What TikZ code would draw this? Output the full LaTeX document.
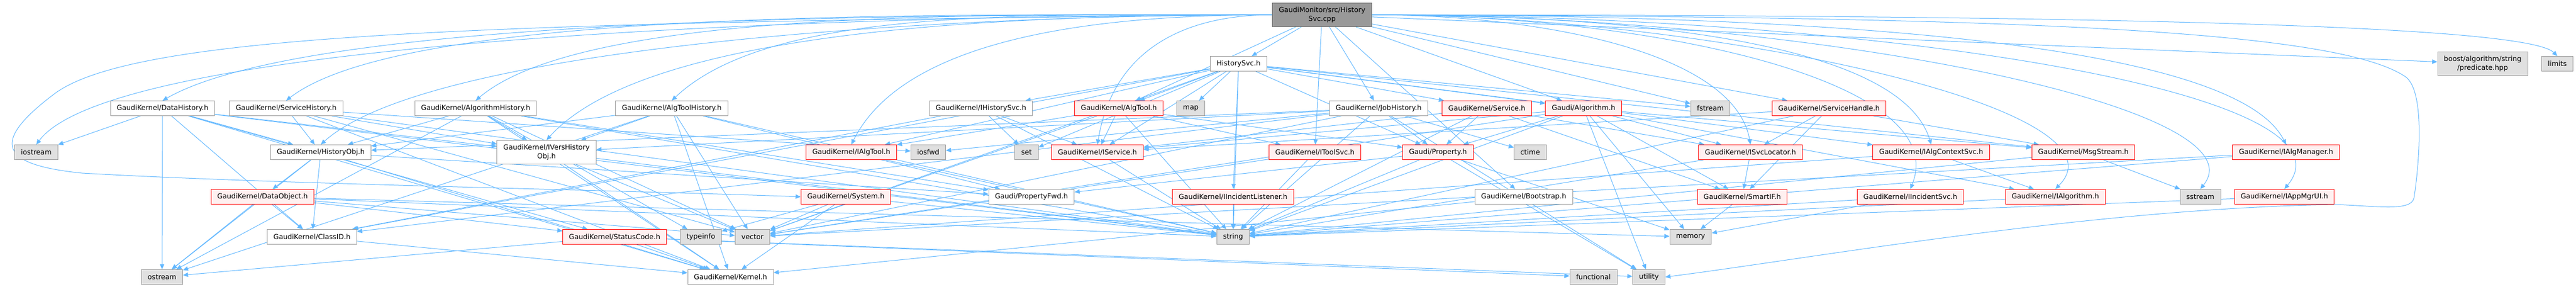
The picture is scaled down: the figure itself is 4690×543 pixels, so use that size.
\documentclass[tikz,border=0pt]{standalone}
\usepackage{fontspec}
\setmainfont{DejaVu Sans}
\usetikzlibrary{arrows.meta,backgrounds}

\definecolor{edgeblue}{HTML}{63B8FF}
\definecolor{redfill}{HTML}{FFF0F0}
\definecolor{sysfill}{HTML}{E0E0E0}
\definecolor{boxline}{HTML}{999999}
\definecolor{rootline}{HTML}{666666}

\begin{document}
\begin{tikzpicture}[x=0.75pt, y=0.75pt,
    every node/.style={font=\fontsize{9.5}{12}\selectfont, inner xsep=8.6pt, inner ysep=2pt, minimum height=20.25pt, line width=0.75pt},
    box/.style={draw=boxline, fill=white},
    redbox/.style={draw=red, fill=redfill},
    sysbox/.style={draw=boxline, fill=sysfill},
    twoline/.style={align=center, minimum height=32.25pt},
    rootbox/.style={draw=rootline, fill=boxline, twoline},
    dep/.style={draw=edgeblue, line width=0.75pt, -{Triangle[length=7pt,width=6pt]}}]

\useasboundingbox (0,0) rectangle (4690,-543);

% nodes
\node[rootbox] (root) at (2407,-27) {GaudiMonitor/src/History\\Svc.cpp};
\node[box] (hsvch) at (2255,-116) {HistorySvc.h};
\node[sysbox, twoline] (boost) at (4520,-116) {boost/algorithm/string\\/predicate.hpp};
\node[sysbox] (limits) at (4656,-116) {limits};

\node[box] (dhist) at (296,-197) {GaudiKernel/DataHistory.h};
\node[box] (shist) at (521,-197) {GaudiKernel/ServiceHistory.h};
\node[box] (ahist) at (866,-197) {GaudiKernel/AlgorithmHistory.h};
\node[box] (thist) at (1223,-197) {GaudiKernel/AlgToolHistory.h};
\node[box] (ihsvc) at (1786,-197) {GaudiKernel/IHistorySvc.h};
\node[redbox] (algtool) at (2037,-197) {GaudiKernel/AlgTool.h};
\node[sysbox] (map) at (2168,-197) {map};
\node[box] (jhist) at (2510,-197) {GaudiKernel/JobHistory.h};
\node[redbox] (service) at (2707,-197) {GaudiKernel/Service.h};
\node[redbox] (algorithm) at (2883,-197) {Gaudi/Algorithm.h};
\node[sysbox] (fstream) at (3114,-197) {fstream};
\node[redbox] (svchandle) at (3330,-197) {GaudiKernel/ServiceHandle.h};

\node[sysbox] (iostream) at (66,-277) {iostream};
\node[box] (histobj) at (584,-277) {GaudiKernel/HistoryObj.h};
\node[box, twoline] (ivers) at (995,-277) {GaudiKernel/IVersHistory\\Obj.h};
\node[redbox] (ialgtool) at (1550,-277) {GaudiKernel/IAlgTool.h};
\node[sysbox] (iosfwd) at (1690,-277) {iosfwd};
\node[sysbox] (set) at (1869,-277) {set};
\node[redbox] (iservice) at (1998,-277) {GaudiKernel/IService.h};
\node[redbox] (itoolsvc) at (2394,-277) {GaudiKernel/IToolSvc.h};
\node[redbox] (property) at (2618,-277) {Gaudi/Property.h};
\node[sysbox] (ctime) at (2786,-277) {ctime};
\node[redbox] (isvcloc) at (3187,-277) {GaudiKernel/ISvcLocator.h};
\node[redbox] (ialgctx) at (3516,-277) {GaudiKernel/IAlgContextSvc.h};
\node[redbox] (msgstream) at (3793,-277) {GaudiKernel/MsgStream.h};
\node[redbox] (ialgmgr) at (4162,-277) {GaudiKernel/IAlgManager.h};

\node[redbox] (dataobj) at (478,-358) {GaudiKernel/DataObject.h};
\node[redbox] (system) at (1540,-358) {GaudiKernel/System.h};
\node[box] (propfwd) at (1878,-358) {Gaudi/PropertyFwd.h};
\node[redbox] (inclist) at (2245,-358) {GaudiKernel/IIncidentListener.h};
\node[box] (bootstrap) at (2774,-358) {GaudiKernel/Bootstrap.h};
\node[redbox] (smartif) at (3172,-358) {GaudiKernel/SmartIF.h};
\node[redbox] (incsvc) at (3478,-358) {GaudiKernel/IIncidentSvc.h};
\node[redbox] (ialg) at (3742,-358) {GaudiKernel/IAlgorithm.h};
\node[sysbox] (sstream) at (4006,-358) {sstream};
\node[redbox] (appmgr) at (4159,-358) {GaudiKernel/IAppMgrUI.h};

\node[box] (classid) at (568,-431) {GaudiKernel/ClassID.h};
\node[redbox] (statuscode) at (1119,-431) {GaudiKernel/StatusCode.h};
\node[sysbox] (typeinfo) at (1276,-431) {typeinfo};
\node[sysbox] (vector) at (1370,-431) {vector};
\node[sysbox] (string) at (2245,-431) {string};
\node[sysbox] (memory) at (3078,-431) {memory};

\node[sysbox] (ostream) at (295,-504) {ostream};
\node[box] (kernel) at (1330,-504) {GaudiKernel/Kernel.h};
\node[sysbox] (functional) at (2901,-504) {functional};
\node[sysbox] (utility) at (3002,-504) {utility};

% includes
\begin{scope}[on background layer]
\foreach \t in {hsvch, itoolsvc, jhist, algtool, algorithm, fstream, svchandle, bootstrap, boost}
{
    \draw[dep] (root) -- (\t);
}

% root, to the left
\foreach \t/\a/\bx/\by in {dhist/600/280/160, shist/600/220/170, ahist/500/200/170,
    thist/450/180/170, iostream/700/150/200, histobj/600/200/180, ivers/500/180/200,
    ialgtool/300/100/200, iservice/150/30/180}
{
    \draw[dep] (root.west) .. controls +(-\a,0) and +(\bx,\by) .. (\t.north);
}

% root, to the right
\foreach \t/\a/\bx/\by in {isvcloc/300/-30/170, ialgctx/400/-60/200, ialgmgr/700/-100/200,
    appmgr/900/150/180, ialg/600/150/150, incsvc/500/80/200, sstream/800/120/150,
    limits/1200/-60/60}
{
    \draw[dep] (root.east) .. controls +(\a,0) and +(\bx,\by) .. (\t.north);
}

% the two long loops
\draw[dep] (root.west) .. controls (900,-40) and (250,-60) .. (100,-170)
    .. controls (-20,-260) and (0,-300) .. (150,-315)
    .. controls (500,-335) and (1100,-345) .. (system.west);
\draw[dep] (root.east) .. controls (3600,-30) and (4250,-50) .. (4380,-140)
    .. controls (4420,-170) and (4400,-330) .. (4395,-360)
    .. controls (4390,-385) and (4330,-375) .. (4250,-372)
    .. controls (3800,-380) and (3300,-470) .. (utility.east);

\foreach \a/\b in {hsvch/ihsvc, hsvch/inclist, hsvch/service, hsvch/algorithm, hsvch/algtool,
    hsvch/map, hsvch/set, hsvch/fstream, hsvch/classid, hsvch/msgstream, hsvch/ialgctx,
    hsvch/property, hsvch/ialgtool, hsvch/string, hsvch/vector, hsvch/iservice,
    dhist/classid, dhist/histobj, dhist/ivers, dhist/kernel, dhist/statuscode,
    dhist/iostream, dhist/ostream, dhist/string,
    shist/histobj, shist/ivers, shist/kernel, shist/iosfwd, shist/string, shist/vector,
    ahist/histobj, ahist/ivers, ahist/kernel, ahist/propfwd, ahist/typeinfo,
    ahist/string, ahist/vector, ahist/ostream,
    thist/histobj, thist/ivers, thist/kernel, thist/propfwd, thist/string,
    thist/vector, thist/ostream,
    jhist/histobj, jhist/ivers, jhist/property, jhist/ctime, jhist/classid,
    jhist/iosfwd, jhist/string, jhist/vector, jhist/utility,
    histobj/dataobj, histobj/classid, histobj/kernel, histobj/propfwd, histobj/ostream,
    dataobj/classid, dataobj/statuscode, dataobj/string, dataobj/memory,
    dataobj/ostream, dataobj/vector,
    classid/kernel,
    statuscode/kernel, statuscode/ostream, statuscode/utility, statuscode/functional,
    ivers/kernel, ivers/string, ivers/vector,
    ihsvc/iservice, ihsvc/set, ihsvc/string, ihsvc/classid,
    algtool/iservice, algtool/itoolsvc, algtool/ialgtool, algtool/property,
    algtool/string, algtool/vector,
    service/property, service/iservice, service/isvcloc, service/smartif, service/string,
    algorithm/property, algorithm/iservice, algorithm/ialg, algorithm/isvcloc,
    algorithm/msgstream, algorithm/smartif, algorithm/string, algorithm/vector,
    algorithm/memory, algorithm/utility,
    svchandle/isvcloc, svchandle/smartif, svchandle/iservice, svchandle/msgstream,
    svchandle/string,
    iservice/string, ialgtool/string, itoolsvc/string, itoolsvc/vector,
    property/propfwd, property/string, property/utility, property/memory,
    isvcloc/smartif, isvcloc/string, ialgctx/ialg, ialgctx/vector,
    msgstream/sstream, msgstream/string, ialgmgr/string, ialgmgr/vector,
    appmgr/string, ialg/string, incsvc/string, incsvc/memory, smartif/memory,
    system/kernel, system/vector, system/typeinfo, system/string,
    bootstrap/kernel, inclist/string}
{
    \draw[dep] (\a) -- (\b);
}
\end{scope}

\end{tikzpicture}
\end{document}
